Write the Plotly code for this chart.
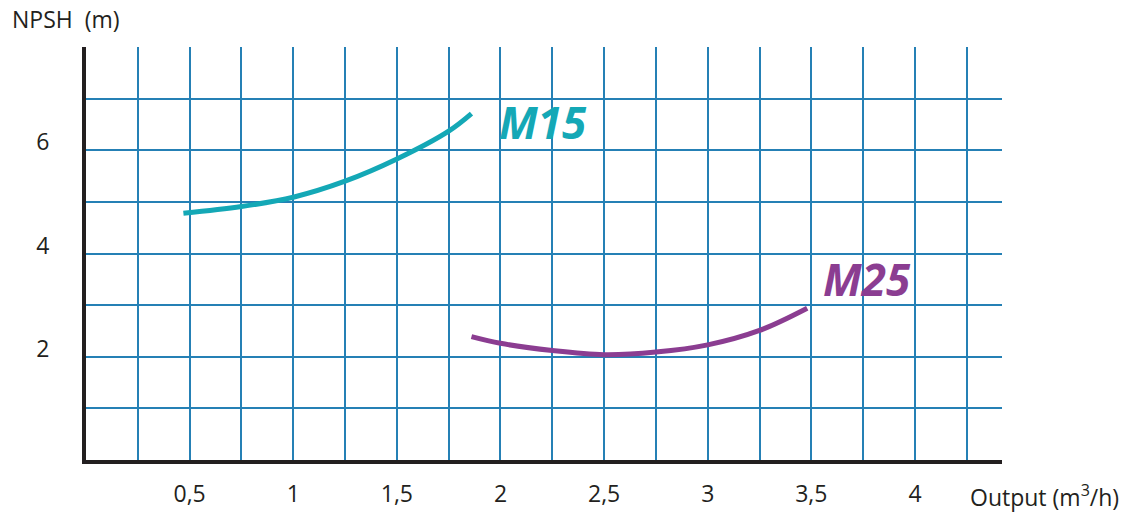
import plotly.graph_objects as go

# Data
m15_x = [0.47, 0.75, 1.0, 1.25, 1.5, 1.75, 1.86]
m15_y = [4.78, 4.91, 5.09, 5.40, 5.83, 6.37, 6.71]

m25_x = [1.86, 2.0, 2.25, 2.5, 2.75, 3.0, 3.25, 3.48]
m25_y = [2.39, 2.26, 2.12, 2.04, 2.09, 2.23, 2.51, 2.94]

x_ticks = [0.5, 1.0, 1.5, 2.0, 2.5, 3.0, 3.5, 4.0]
x_ticktext = ["0,5", "1", "1,5", "2", "2,5", "3", "3,5", "4"]
x_minor = [0.25, 0.75, 1.25, 1.75, 2.25, 2.75, 3.25, 3.75, 4.25]
y_ticks = [2, 4, 6]
y_ticktext = ["2", "4", "6"]
y_minor = [1, 3, 5, 7]

TEAL = "#14a8b6"
PURPLE = "#8b3d91"
GRID = "#2580b5"
INK = "#231f20"
FONT = "Open Sans"

fig = go.Figure()
fig.add_trace(go.Scatter(x=m15_x, y=m15_y, mode="lines",
                         line=dict(color=TEAL, width=5, shape="spline"),
                         hoverinfo="skip", showlegend=False))
fig.add_trace(go.Scatter(x=m25_x, y=m25_y, mode="lines",
                         line=dict(color=PURPLE, width=5, shape="spline"),
                         hoverinfo="skip", showlegend=False))

fig.update_xaxes(range=[0, 4.42], tickmode="array", tickvals=x_ticks, ticktext=x_ticktext,
                 showgrid=True, gridcolor=GRID, gridwidth=1.6,
                 minor=dict(tickmode="array", tickvals=x_minor, showgrid=True,
                            gridcolor=GRID, gridwidth=1.6, ticks=""),
                 showline=True, linecolor=INK, linewidth=4,
                 ticks="", ticklabelstandoff=10, automargin=False,
                 tickfont=dict(family=FONT, size=23, color=INK),
                 zeroline=False, fixedrange=True)
fig.update_yaxes(range=[0, 8.0], tickmode="array", tickvals=y_ticks, ticktext=y_ticktext,
                 showgrid=True, gridcolor=GRID, gridwidth=1.6,
                 minor=dict(tickmode="array", tickvals=y_minor, showgrid=True,
                            gridcolor=GRID, gridwidth=1.6, ticks=""),
                 showline=True, linecolor=INK, linewidth=4,
                 ticks="", ticklabelstandoff=28, ticklabelshift=-8, automargin=False,
                 tickfont=dict(family=FONT, size=23, color=INK),
                 zeroline=False, fixedrange=True)

annotations = [
    dict(x=(10 - 86) / 916, xref="paper", y=(460 - 19) / 413, yref="paper", text="NPSH  (m)",
         showarrow=False, xanchor="left", yanchor="middle",
         font=dict(family=FONT, size=23, color=INK)),
    dict(x=(968 - 86) / 916, xref="paper", y=(460 - 496) / 413, yref="paper",
         text="Output (m<sup>3</sup>/h)",
         showarrow=False, xanchor="left", yanchor="middle",
         font=dict(family=FONT, size=23, color=INK)),
    dict(x=2.205, xref="x", y=6.55, yref="y", text="<b><i>M15</i></b>",
         showarrow=False, xanchor="center", yanchor="middle",
         font=dict(family=FONT, size=44, color=TEAL)),
    dict(x=3.77, xref="x", y=3.5, yref="y", text="<b><i>M25</i></b>",
         showarrow=False, xanchor="center", yanchor="middle",
         font=dict(family=FONT, size=44, color=PURPLE)),
]

fig.update_layout(width=1130, height=513,
                  margin=dict(l=86, r=128, t=47, b=53, autoexpand=False),
                  paper_bgcolor="white", plot_bgcolor="white",
                  annotations=annotations)

fig.write_html("out.html", config={"displayModeBar": False},
               post_script="document.body.style.margin='0';document.body.style.overflow='hidden';")
